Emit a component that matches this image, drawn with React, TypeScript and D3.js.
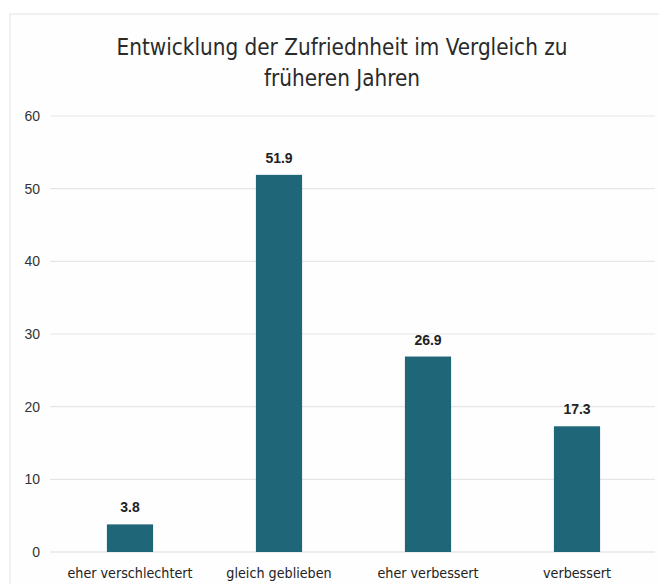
import React from "react";
import * as d3 from "d3";

const categories = ["eher verschlechtert", "gleich geblieben", "eher verbessert", "verbessert"];
const values = [3.8, 51.9, 26.9, 17.3];
const yTicks = [0, 10, 20, 30, 40, 50, 60];
const titleLines = ["Entwicklung der Zufriednheit im Vergleich zu", "früheren Jahren"];

const W = 659;
const H = 584;
const narrow = "'Liberation Sans Narrow', 'DejaVu Sans Condensed', sans-serif";

export default function App() {
  const x = d3.scaleBand<string>().domain(categories).range([55.5, 651.5]).paddingInner(0.69).paddingOuter(0.345);
  const y = d3.scaleLinear().domain([0, 60]).range([552, 116]);
  const color = "#1f6678";
  return (
    <svg width={W} height={H} style={{ position: "absolute", left: 0, top: 0, background: "#fff" }}>
      <rect x={10} y={14} width={W} height={H} fill="#fefefe" stroke="#ececec" strokeWidth={1.5} />
      {titleLines.map((t, i) => (
        <text key={i} x={342} y={55 + i * 31} textAnchor="middle" fontFamily={narrow} fontSize={22.3} fill="#2a2a2a">
          {t}
        </text>
      ))}
      {yTicks.map((t) => (
        <g key={t}>
          <line x1={50} x2={655} y1={y(t)} y2={y(t)} stroke={t === 0 ? "#dcdcdc" : "#e6e6e6"} strokeWidth={1.2} />
          <text x={40} y={y(t)} dy="0.35em" textAnchor="end" fontFamily="'Liberation Sans', Arial, sans-serif" fontSize={14} fill="#333">
            {t}
          </text>
        </g>
      ))}
      {categories.map((c, i) => (
        <g key={c}>
          <rect x={x(c)} y={y(values[i])} width={x.bandwidth()} height={y(0) - y(values[i])} fill={color} />
          <text x={(x(c) as number) + x.bandwidth() / 2} y={y(values[i]) - 12} textAnchor="middle" fontFamily="'Liberation Sans', Arial, sans-serif" fontSize={14} fontWeight={600} fill="#222">
            {values[i].toFixed(1)}
          </text>
          <text x={(x(c) as number) + x.bandwidth() / 2} y={578} textAnchor="middle" fontFamily={narrow} fontSize={14.2} fill="#222">
            {c}
          </text>
        </g>
      ))}
    </svg>
  );
}
